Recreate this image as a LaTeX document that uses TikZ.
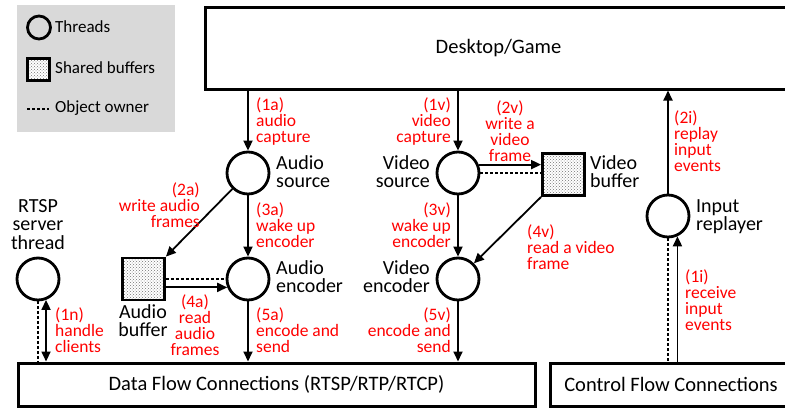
\documentclass[tikz,border=0pt]{standalone}
\usepackage{fontspec}
\setmainfont{Carlito}
\usetikzlibrary{arrows.meta,patterns}
\definecolor{legendgray}{HTML}{D9D9D9}
\definecolor{notered}{HTML}{FF0000}
% let tight multi-line labels keep their exact line spacing
\lineskiplimit=-20pt
\lineskip=0pt

\begin{document}
\begin{tikzpicture}[x=1pt,y=-1pt,
  thread/.style={circle,draw,line width=2.8pt,minimum size=42pt,inner sep=0pt},
  bufbox/.style={rectangle,draw,line width=2.8pt,minimum size=42pt,inner sep=0pt,
    preaction={fill=white},pattern=crosshatch dots,pattern color=black!55},
  panel/.style={rectangle,draw,line width=3pt,inner sep=0pt,
    font={\fontsize{20.5}{24}\selectfont}},
  flow/.style={line width=1.8pt,-{Triangle[length=10pt,width=9pt]}},
  bothflow/.style={line width=1.8pt,{Triangle[length=10pt,width=9pt]}-{Triangle[length=10pt,width=9pt]}},
  owner/.style={line width=1.8pt,dash pattern=on 3pt off 2pt},
  redlabel/.style={text=notered,inner sep=0pt,
    font={\fontsize{17.5}{16}\selectfont}},
  blacklabel/.style={inner sep=0pt,
    font={\fontsize{20}{18.5}\selectfont}},
  legendtext/.style={inner sep=0pt,anchor=west,font={\fontsize{17}{20}\selectfont}}
]
\useasboundingbox (0,0) rectangle (785,410);
\clip (0,0) rectangle (785,410);

% legend
\fill[legendgray] (17,5) rectangle (175,132);
\node[thread,minimum size=23pt] (keythread) at (39,27.5) {};
\node[legendtext] (keythreadtxt) at (55,27) {Threads};
\node[bufbox,minimum size=22pt] (keybuf) at (38.5,69.5) {};
\node[legendtext] (keybuftxt) at (55,68) {Shared buffers};
\coordinate (keyA) at (27,109);
\coordinate (keyB) at (49,109);
\draw[owner] (keyA) -- (keyB);
\node[legendtext] (keyownertxt) at (55,108) {Object owner};

% panels
\node[panel,minimum width=587pt,minimum height=82pt] (desk) at (498.5,48) {Desktop/Game};
\node[panel,minimum width=517pt,minimum height=43pt] (data) at (276.5,384.5) {Data Flow Connections (RTSP/RTP/RTCP)};
\node[panel,minimum width=242pt,minimum height=43pt] (ctrl) at (671,384.5) {Control Flow Connections};

% threads and buffers
\node[thread] (asrc) at (248,173) {};
\node[thread] (vsrc) at (458,173) {};
\node[thread] (aenc) at (248,279) {};
\node[thread] (venc) at (458,279) {};
\node[thread] (rtsp) at (38,279) {};
\node[thread] (repl) at (668,216) {};
\node[bufbox] (abuf) at (143.5,279) {};
\node[bufbox] (vbuf) at (563.5,174.5) {};

% names
\node[blacklabel,anchor=north west,align=left] (asrctxt) at (276,155) {Audio\\source};
\node[blacklabel,anchor=north east,align=right] (vsrctxt) at (430,155) {Video\\source};
\node[blacklabel,anchor=north west,align=left] (aenctxt) at (276,260) {Audio\\encoder};
\node[blacklabel,anchor=north east,align=right] (venctxt) at (430,260) {Video\\encoder};
\node[blacklabel,anchor=north west,align=left] (vbuftxt) at (590,155) {Video\\buffer};
\node[blacklabel,anchor=north,align=center] (abuftxt) at (143,304) {Audio\\buffer};
\node[blacklabel,anchor=north,align=center] (rtsptxt) at (38,199) {RTSP\\server\\thread};
\node[blacklabel,anchor=north west,align=left] (repltxt) at (696,199) {Input\\replayer};

% audio path
\draw[flow] (asrc |- desk.south) -- (asrc);
\draw[flow] (asrc) -- (aenc);
\draw[flow] (asrc) -- (abuf.north east);
\draw[owner] (abuf.east) -- (aenc.west);
\draw[flow] (abuf.east |- aenc.202) -- (aenc.202);
\draw[flow] (aenc) -- (aenc |- data.north);

% video path
\draw[flow] (vsrc |- desk.south) -- (vsrc);
\draw[flow] (vsrc) -- (venc);
\draw[flow] (vsrc.22) -- (vsrc.22 -| vbuf.west);
\draw[owner] (vsrc.east) -- (vbuf.west |- vsrc.east);
\draw[flow] (vbuf.south west) -- (venc);
\draw[flow] (venc) -- (venc |- data.north);

% RTSP server
\draw[owner] (rtsp.south) -- (rtsp.south |- data.north);
\draw[bothflow] (rtsp.291) -- (rtsp.291 |- data.north);

% input replay
\draw[owner] (repl.south) -- (repl.south |- ctrl.north);
\draw[flow] (repl.295 |- ctrl.north) -- (repl.295);
\draw[flow] (repl) -- (repl |- desk.south);

% step labels
\node[redlabel,anchor=north west,align=left] (l1a) at (256,97) {(1a)\\audio\\capture};
\node[redlabel,anchor=north east,align=right] (l1v) at (451,97) {(1v)\\video\\capture};
\node[redlabel,anchor=north west,align=left] (l3a) at (256,202) {(3a)\\wake up\\encoder};
\node[redlabel,anchor=north east,align=right] (l3v) at (451,202) {(3v)\\wake up\\encoder};
\node[redlabel,anchor=north east,align=right] (l2a) at (200,182) {(2a)\\write audio\\frames};
\node[redlabel,anchor=north,align=center] (l4a) at (195,294) {(4a)\\read\\audio\\frames};
\node[redlabel,anchor=north west,align=left] (l5a) at (256,307) {(5a)\\encode and\\send};
\node[redlabel,anchor=north east,align=right] (l5v) at (451,307) {(5v)\\encode and\\send};
\node[redlabel,anchor=north west,align=left] (l1n) at (55,307) {(1n)\\handle\\clients};
\node[redlabel,anchor=north,align=center] (l2v) at (510,100) {(2v)\\write a\\video\\frame};
\node[redlabel,anchor=north west,align=left] (l4v) at (527,224) {(4v)\\read a video\\frame};
\node[redlabel,anchor=north west,align=left] (l2i) at (674,110) {(2i)\\replay\\input\\events};
\node[redlabel,anchor=north west,align=left] (l1i) at (685,269) {(1i)\\receive\\input\\events};
\end{tikzpicture}
\end{document}
